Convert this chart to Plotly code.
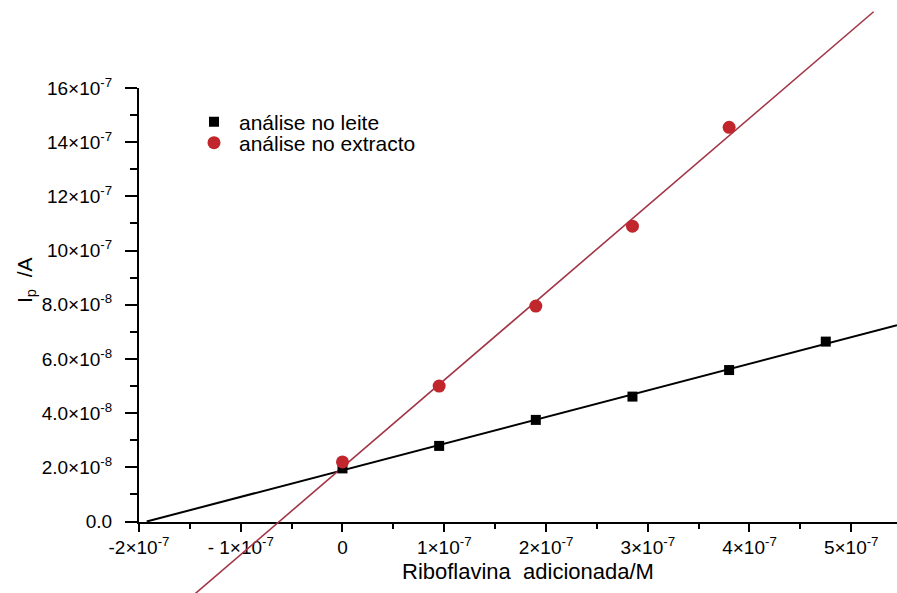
import numpy as np
import plotly.graph_objects as go

# Standard-addition data: riboflavin added (M) vs peak current (A)
added_leite = [0.0, 0.95e-7, 1.90e-7, 2.85e-7, 3.80e-7, 4.75e-7]
ip_leite = [1.96e-7, 2.79e-7, 3.75e-7, 4.61e-7, 5.59e-7, 6.64e-7]

added_extracto = [0.0, 0.95e-7, 1.90e-7, 2.85e-7, 3.80e-7]
ip_extracto = [2.20e-7, 5.00e-7, 7.95e-7, 10.90e-7, 14.55e-7]

series_names = ["análise no leite", "análise no extracto"]

x_tick_vals = [-2e-7, -1e-7, 0.0, 1e-7, 2e-7, 3e-7, 4e-7, 5e-7]
x_tick_text = ["-2×10<sup>-7</sup>", "- 1×10<sup>-7</sup>", "0", "1×10<sup>-7</sup>",
               "2×10<sup>-7</sup>", "3×10<sup>-7</sup>", "4×10<sup>-7</sup>", "5×10<sup>-7</sup>"]
y_tick_vals = [0.0, 2e-7, 4e-7, 6e-7, 8e-7, 10e-7, 12e-7, 14e-7, 16e-7]
y_tick_text = ["0.0", "2.0×10<sup>-8</sup>", "4.0×10<sup>-8</sup>", "6.0×10<sup>-8</sup>",
               "8.0×10<sup>-8</sup>", "10×10<sup>-7</sup>", "12×10<sup>-7</sup>",
               "14×10<sup>-7</sup>", "16×10<sup>-7</sup>"]

# Figure geometry (px)
W, H = 897, 593
AX_LEFT, AX_TOP, AX_BOTTOM = 139, 88, 521.5
X_RANGE = [-2e-7, 5.45e-7]
Y_RANGE = [0.0, 16e-7]

FONT = "Liberation Sans, Arial, sans-serif"

# Pixel scale of the framed axes, used to extend a full-page overlay scale
px_x = (W - AX_LEFT) / (X_RANGE[1] - X_RANGE[0])
px_y = (AX_BOTTOM - AX_TOP) / (Y_RANGE[1] - Y_RANGE[0])
X2_RANGE = [X_RANGE[0] - AX_LEFT / px_x, X_RANGE[1]]
Y2_RANGE = [Y_RANGE[0] - (H - AX_BOTTOM) / px_y, Y_RANGE[1] + AX_TOP / px_y]

# Least-squares calibration lines
m_l, b_l = np.polyfit(added_leite, ip_leite, 1)
m_e, b_e = np.polyfit(added_extracto, ip_extracto, 1)
xl = np.array([-b_l / m_l, X2_RANGE[1]])
xe = np.array([-1.5e-7, 5.22e-7])

fig = go.Figure()
# empty trace so the framed tick axes are built
fig.add_trace(go.Scatter(x=[], y=[], mode="markers", showlegend=False,
                         xaxis="x", yaxis="y", hoverinfo="skip"))
fig.add_trace(go.Scatter(x=xl, y=m_l * xl + b_l, mode="lines",
                         line=dict(color="black", width=2), showlegend=False,
                         xaxis="x2", yaxis="y2", hoverinfo="skip"))
fig.add_trace(go.Scatter(x=xe, y=m_e * xe + b_e, mode="lines",
                         line=dict(color="#a23546", width=1.6), showlegend=False,
                         xaxis="x2", yaxis="y2", hoverinfo="skip"))
fig.add_trace(go.Scatter(x=added_leite, y=ip_leite, mode="markers", name=series_names[0],
                         marker=dict(symbol="square", size=10, color="black"),
                         xaxis="x2", yaxis="y2", legend="legend"))
fig.add_trace(go.Scatter(x=added_extracto, y=ip_extracto, mode="markers", name=series_names[1],
                         marker=dict(symbol="circle", size=13, color="#c0262c"),
                         xaxis="x2", yaxis="y2", legend="legend2"))

axis_common = dict(showgrid=False, zeroline=False, showline=True, linecolor="black",
                   linewidth=2, ticks="outside", tickcolor="black", tickwidth=2,
                   tickmode="array", automargin=False, fixedrange=True)

legend_common = dict(xanchor="left", yanchor="middle", bgcolor="rgba(0,0,0,0)",
                     font=dict(family=FONT, size=21, color="black"), itemwidth=40)

fig.update_layout(
    width=W, height=H,
    margin=dict(l=0, r=0, t=0, b=0),
    paper_bgcolor="white", plot_bgcolor="rgba(0,0,0,0)",
    xaxis=dict(axis_common, domain=[AX_LEFT / W, 1], range=X_RANGE, anchor="y",
               tickvals=x_tick_vals, ticktext=x_tick_text, ticklen=8,
               tickfont=dict(family=FONT, size=19, color="black"),
               minor=dict(ticks="outside", ticklen=5, tickwidth=2, tickcolor="black",
                          tick0=-2e-7, dtick=0.5e-7)),
    yaxis=dict(axis_common, domain=[(H - AX_BOTTOM) / H, (H - AX_TOP) / H], range=Y_RANGE,
               anchor="x", tickvals=y_tick_vals, ticktext=y_tick_text, ticklen=12,
               ticklabelstandoff=9,
               tickfont=dict(family=FONT, size=19, color="black"),
               minor=dict(ticks="outside", ticklen=7, tickwidth=2, tickcolor="black",
                          tick0=0, dtick=1e-7)),
    xaxis2=dict(domain=[0, 1], range=X2_RANGE, anchor="y2", visible=False, fixedrange=True),
    yaxis2=dict(domain=[0, 1], range=Y2_RANGE, anchor="x2", visible=False, fixedrange=True),
    legend=dict(legend_common, x=189 / W, y=1 - 122 / H),
    legend2=dict(legend_common, x=189 / W, y=1 - 143 / H),
    showlegend=True,
    annotations=[
        dict(text="Riboflavina  adicionada/M", x=528 / W, y=1 - 571 / H,
             xanchor="center", yanchor="middle",
             xref="paper", yref="paper", showarrow=False,
             font=dict(family=FONT, size=22, color="black")),
        dict(text="I<sub>p</sub>  /A", x=26 / W, y=1 - 280 / H, textangle=-90,
             xanchor="center", yanchor="middle",
             xref="paper", yref="paper", showarrow=False,
             font=dict(family=FONT, size=21, color="black")),
    ],
)

fig.write_html("out.html")
